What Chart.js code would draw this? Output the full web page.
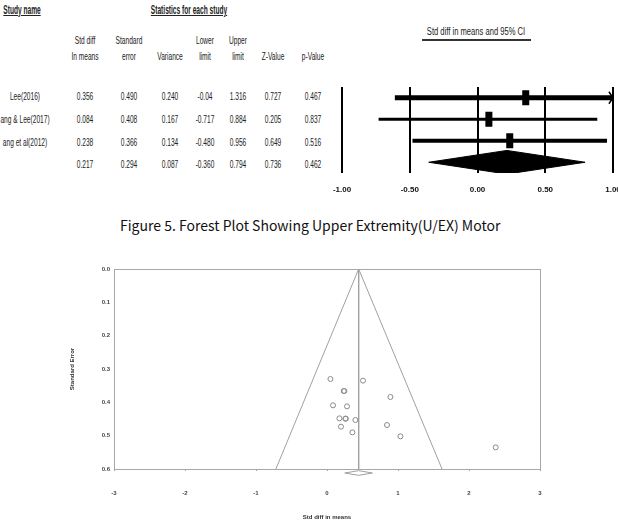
<!DOCTYPE html>
<html>
<head>
<meta charset="utf-8">
<script src="https://cdn.jsdelivr.net/npm/chart.js@4.4.1/dist/chart.umd.min.js"></script>
<style>
  body { margin: 0; background: #fff; overflow: hidden; }
  #page { position: relative; width: 618px; height: 528px; }
  .t { position: absolute; white-space: nowrap; color: #222;
       font-family: "Liberation Sans", sans-serif; font-size: 11px;
       line-height: 1; transform: translate(-50%, -50%) scaleX(0.6); }
  .h { font-weight: bold; text-decoration: underline; font-size: 12px;
       transform: translate(-50%, -50%) scaleX(0.55); }
  .s { font-size: 10px; transform: translate(-50%, -50%) scaleX(0.76); }
  .rule { position: absolute; left: 422px; top: 39px; width: 109px; height: 2px; background: #333; }
  .cap { position: absolute; left: 120px; top: 215px; white-space: nowrap; color: #111;
         font-family: "Noto Sans CJK KR", "Noto Sans", sans-serif; font-size: 14px; }
  canvas { position: absolute; }
</style>
</head>
<body>
<div id="page">
  <div class="rule"></div>
  <div class="cap">Figure 5. Forest Plot Showing Upper Extremity(U/EX) Motor</div>
  <canvas id="forest" width="296" height="120" style="left:322px;top:80px"></canvas>
  <canvas id="funnel" width="618" height="278" style="left:0;top:250px"></canvas>
</div>
<script>
// forest plot table
const studyNames = ['Lee(2016)', 'ang & Lee(2017)', 'ang et al(2012)', ''];
const stdDiff = ['0.356', '0.084', '0.238', '0.217'];
const stdError = ['0.490', '0.408', '0.366', '0.294'];
const variance = ['0.240', '0.167', '0.134', '0.087'];
const lowerLimit = ['-0.04', '-0.717', '-0.480', '-0.360'];
const upperLimit = ['1.316', '0.884', '0.956', '0.794'];
const zValue = ['0.727', '0.205', '0.649', '0.736'];
const pValue = ['0.467', '0.837', '0.516', '0.462'];
const colHeads = [['Std diff', 'In means'], ['Standard', 'error'], ['', 'Variance'], ['Lower', 'limit'],
                  ['Upper', 'limit'], ['', 'Z-Value'], ['', 'p-Value']];

// confidence intervals as drawn in the plot
const ciLow = [-0.61, -0.73, -0.48, -0.36];
const ciHigh = [1.316, 0.884, 0.956, 0.794];
const forestTicks = [-1.0, -0.5, 0.0, 0.5, 1.0];

// funnel plot (std diff in means vs standard error)
const funnelX = [0.048, 0.235, 0.245, 0.507, 0.893, 0.085, 0.282, 0.175, 0.258, 0.266,
                 0.400, 0.197, 0.358, 0.845, 1.034, 2.376];
const funnelSE = [0.330, 0.366, 0.366, 0.335, 0.384, 0.409, 0.412, 0.448, 0.449, 0.449,
                  0.453, 0.473, 0.490, 0.468, 0.502, 0.535];
const pooledMean = 0.446;
const funnelEnds = [-0.72, 1.62];
const pooledCI = [0.25, 0.64];

// ---- table text ----
const page = document.getElementById('page');
function put(text, x, y, cls) {
  const d = document.createElement('div');
  d.className = 't' + (cls ? ' ' + cls : '');
  d.textContent = text;
  d.style.left = x + 'px';
  d.style.top = y + 'px';
  page.appendChild(d);
}
put('Study name', 22, 10, 'h');
put('Statistics for each study', 189, 10, 'h');
put('Std diff in means and 95% CI', 476, 32, 's');
const colX = [85, 129, 170, 205, 238, 273, 313];
const rowY = [96, 119, 142, 164];
colHeads.forEach((h, c) => {
  if (h[0]) put(h[0], colX[c], 40);
  put(h[1], colX[c], 56);
});
const cols = [stdDiff, stdError, variance, lowerLimit, upperLimit, zValue, pValue];
rowY.forEach((y, r) => {
  if (studyNames[r]) put(studyNames[r], 25, y);
  cols.forEach((col, c) => put(col[r], colX[c], y));
});

// ---- forest plot ----
const rowWidth = [5, 3, 4];
const xMin = -1, xMax = 1;
const fds = [];
for (let i = 0; i < 3; i++) {
  const y = i + 1, est = parseFloat(stdDiff[i]);
  fds.push({ data: [{x: ciLow[i], y}, {x: ciHigh[i], y}], showLine: true,
             borderColor: '#000', borderWidth: rowWidth[i], pointRadius: 0 });
  fds.push({ data: [{x: est, y: y - 0.35}, {x: est, y: y + 0.35}], showLine: true,
             borderColor: '#000', borderWidth: 7, borderCapStyle: 'butt', pointRadius: 0 });
  if (ciHigh[i] > xMax) {
    fds.push({ data: [{x: xMax - 0.03, y: y - 0.28}, {x: xMax, y}, {x: xMax - 0.03, y: y + 0.28}],
               showLine: true, borderColor: '#000', borderWidth: 1.5, pointRadius: 0 });
  }
}
const est4 = parseFloat(stdDiff[3]);
fds.push({ data: [{x: ciLow[3], y: 4}, {x: est4, y: 3.45}, {x: ciHigh[3], y: 4},
                  {x: est4, y: 4.55}, {x: ciLow[3], y: 4}],
           showLine: true, borderColor: '#000', borderWidth: 1, backgroundColor: '#000',
           fill: 'shape', pointRadius: 0 });

new Chart(document.getElementById('forest'), {
  type: 'scatter',
  data: { datasets: fds },
  options: {
    responsive: false, animation: false, devicePixelRatio: 1,
    layout: { padding: { left: 20, right: 5, top: 7, bottom: 0 } },
    plugins: { legend: { display: false }, tooltip: { enabled: false } },
    scales: {
      x: {
        min: xMin, max: xMax,
        afterBuildTicks: s => { s.ticks = forestTicks.map(v => ({value: v})); },
        afterFit: s => { s.height = 27; s.paddingLeft = 0; s.paddingRight = 0; },
        grid: { color: '#000', lineWidth: 2, drawTicks: false },
        border: { display: false },
        ticks: { padding: 12, color: '#111', maxRotation: 0,
                 font: { family: 'Liberation Sans', size: 8, weight: 'bold' },
                 callback: v => v.toFixed(2) }
      },
      y: { min: 0.5, max: 4.5, reverse: true, display: false }
    }
  }
});

// ---- funnel plot ----
const frame = {
  id: 'frame',
  afterDraw(c) {
    const a = c.chartArea, ctx = c.ctx;
    ctx.save();
    ctx.strokeStyle = '#a8a8a8';
    ctx.lineWidth = 1;
    ctx.strokeRect(Math.round(a.left) + 0.5, Math.round(a.top) + 0.5,
                   Math.round(a.width), Math.round(a.height));
    ctx.restore();
  }
};
const lineGrey = '#a0a0a0';
const pts = funnelX.map((x, i) => ({x, y: funnelSE[i]}));
const pcMid = (pooledCI[0] + pooledCI[1]) / 2;
new Chart(document.getElementById('funnel'), {
  type: 'scatter',
  data: {
    datasets: [
      { data: pts, pointRadius: 2.5, borderColor: '#8a8a8a', borderWidth: 1,
        backgroundColor: 'rgba(255,255,255,0)' },
      { data: [{x: funnelEnds[0], y: 0.6}, {x: pooledMean, y: 0}, {x: funnelEnds[1], y: 0.6}],
        showLine: true, borderColor: lineGrey, borderWidth: 1, pointRadius: 0 },
      { data: [{x: pooledMean, y: 0}, {x: pooledMean, y: 0.6}],
        showLine: true, borderColor: lineGrey, borderWidth: 1, pointRadius: 0 },
      { data: [{x: pooledCI[0], y: 0.612}, {x: pcMid, y: 0.605}, {x: pooledCI[1], y: 0.612},
               {x: pcMid, y: 0.619}, {x: pooledCI[0], y: 0.612}],
        showLine: true, borderColor: lineGrey, borderWidth: 1, pointRadius: 0, clip: false }
    ]
  },
  options: {
    responsive: false, animation: false, devicePixelRatio: 1,
    layout: { padding: { left: 60, right: 78, top: 19, bottom: 0 } },
    plugins: { legend: { display: false }, tooltip: { enabled: false } },
    scales: {
      x: {
        min: -3, max: 3,
        ticks: { stepSize: 1, padding: 19, color: '#444', maxRotation: 0,
                 font: { family: 'Liberation Sans', size: 6, weight: 'bold' } },
        grid: { drawOnChartArea: false, tickLength: 2, color: lineGrey },
        border: { display: false },
        afterFit: s => { s.height = 59; },
        title: { display: true, text: 'Std diff in means', color: '#333',
                 padding: { top: 0, bottom: 7 },
                 font: { family: 'Liberation Sans', size: 6, weight: 'bold' } }
      },
      y: {
        min: 0, max: 0.6, reverse: true,
        ticks: { stepSize: 0.1, padding: 4, color: '#444', callback: v => v.toFixed(1),
                 font: { family: 'Liberation Sans', size: 6, weight: 'bold' } },
        grid: { drawOnChartArea: false, drawTicks: false },
        border: { display: false },
        afterFit: s => { s.width = 54; },
        title: { display: true, text: 'Standard Error', color: '#333',
                 padding: { top: 9, bottom: 0 },
                 font: { family: 'Liberation Sans', size: 6, weight: 'bold' } }
      }
    }
  },
  plugins: [frame]
});
</script>
</body>
</html>
